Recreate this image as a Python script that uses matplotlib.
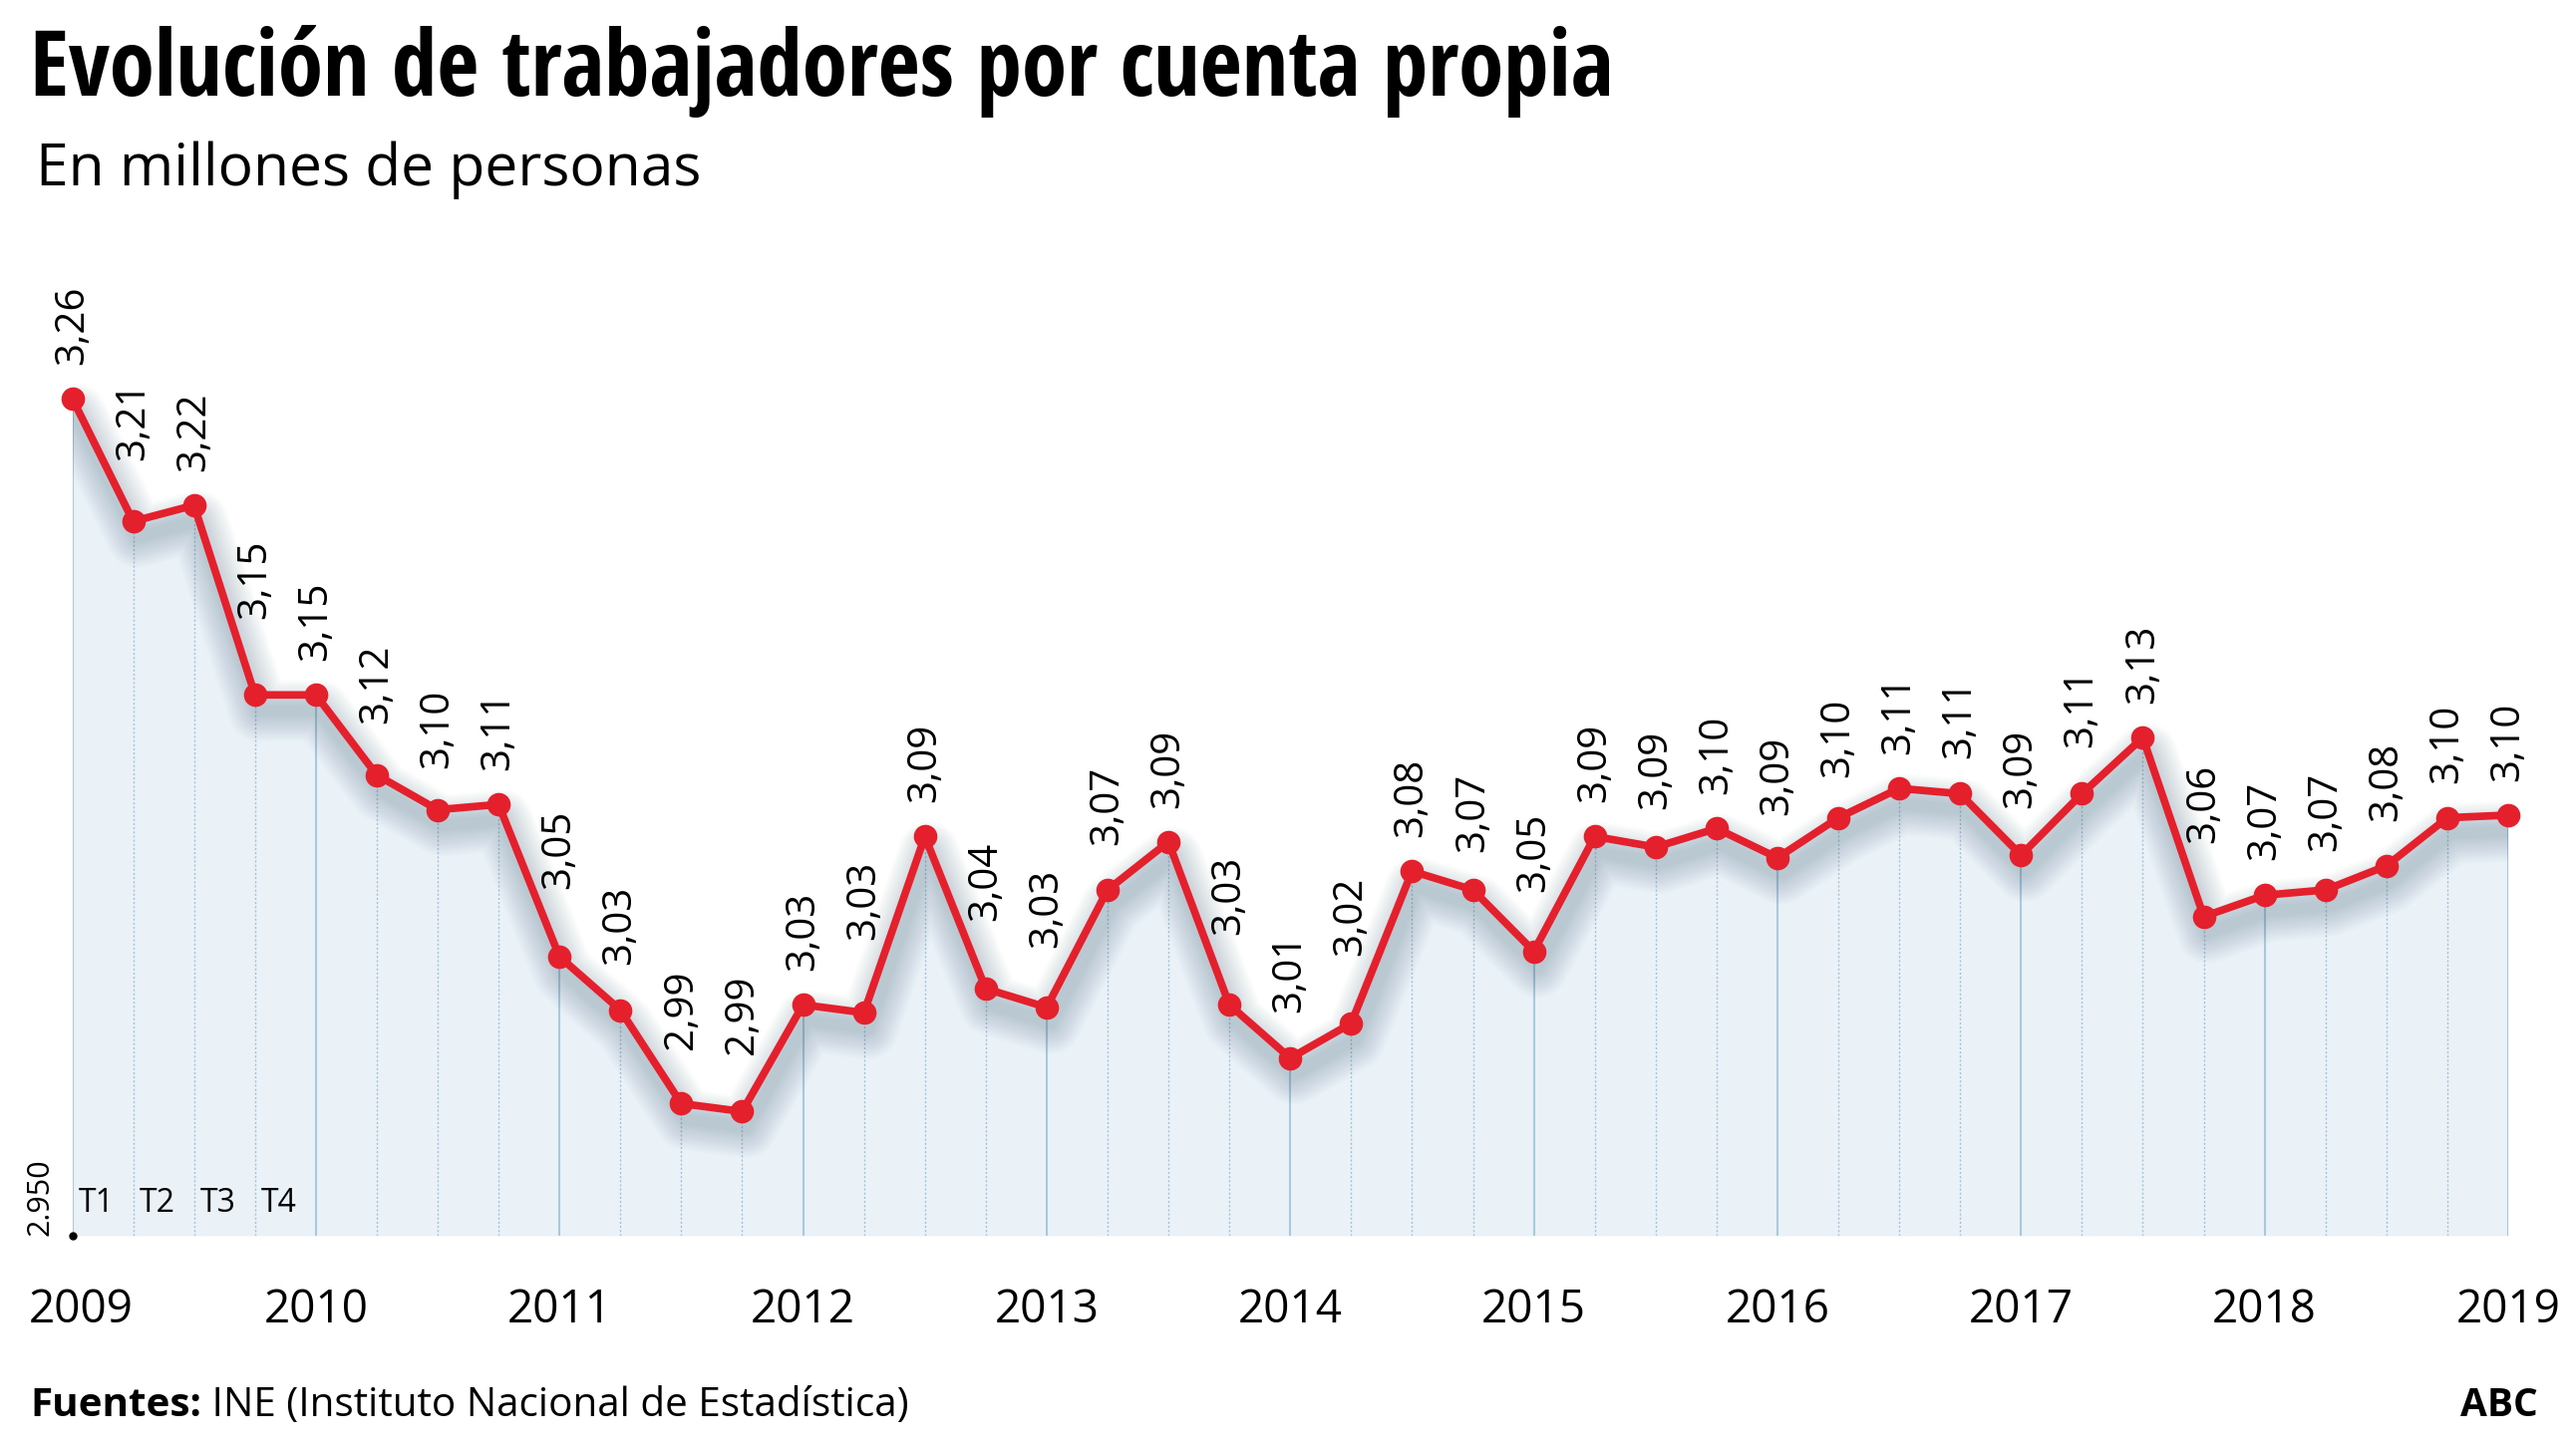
import matplotlib
matplotlib.use("Agg")
import matplotlib.pyplot as plt
import matplotlib.transforms as mtransforms
from matplotlib import font_manager
import numpy as np

# Textos
TITLE = "Evolución de trabajadores por cuenta propia"
SUBTITLE = "En millones de personas"
SOURCE_BOLD = "Fuentes:"
SOURCE_TEXT = " INE (Instituto Nacional de Estadística)"
BRAND = "ABC"
BASE_LABEL = "2.950"

# Datos (millones de personas, trimestral 2009T1 - 2019T1)
YEARS = ["2009", "2010", "2011", "2012", "2013", "2014",
         "2015", "2016", "2017", "2018", "2019"]
QUARTERS = ["T1", "T2", "T3", "T4"]
AUTONOMOS = [
    3.258, 3.212, 3.218, 3.147,   # 2009
    3.147, 3.117, 3.104, 3.106,   # 2010
    3.049, 3.029, 2.994, 2.991,   # 2011
    3.031, 3.028, 3.094, 3.037,   # 2012
    3.030, 3.074, 3.092, 3.031,   # 2013
    3.011, 3.024, 3.081, 3.074,   # 2014
    3.051, 3.094, 3.090, 3.097,   # 2015
    3.086, 3.101, 3.112, 3.110,   # 2016
    3.087, 3.110, 3.131, 3.064,   # 2017
    3.072, 3.074, 3.083, 3.101,   # 2018
    3.102,                        # 2019
]
Y_FLOOR = 2.9445

# Estilo
RED = "#e3202c"
FILL = "#eaf2f8"
GRID_SOLID = "#a8c8dc"
GRID_DOT = "#a3c2d6"

W, H, DPI = 2584, 1455, 100
PX_PER_UNIT = 2680.0


def has_font(name, bold):
    for f in font_manager.fontManager.ttflist:
        if f.name != name:
            continue
        w = f.weight if isinstance(f.weight, int) else font_manager.weight_dict.get(f.weight, 400)
        if (w >= 600) == bold:
            return True
    return False


def pick_font(cands, bold):
    for n in cands:
        if has_font(n, bold):
            return n
    return "Open Sans"


NARROW = ["Open Sans Condensed", "Open Sans SemiCondensed", "Noto Sans SemiCondensed",
          "Noto Sans Condensed", "Roboto Condensed", "Liberation Sans Narrow"]
FONT_BOLD = pick_font(NARROW, True)
FONT_REG = pick_font(["Open Sans SemiCondensed", "Noto Sans SemiCondensed"], False)
plt.rcParams["font.family"] = [FONT_REG, "DejaVu Sans"]
BOLD = [FONT_BOLD, "DejaVu Sans"]
BOLD_WIDE = ["Open Sans", "DejaVu Sans"]


def fx(px):
    return px / W


def fy(px):
    return 1 - px / H


def fit_width(texts, target_px):
    # ajusta el tamaño para que el ancho total coincida con el original
    fig.canvas.draw()
    r = fig.canvas.get_renderer()
    x0 = min(t.get_window_extent(r).x0 for t in texts)
    x1 = max(t.get_window_extent(r).x1 for t in texts)
    k = target_px / (x1 - x0)
    for t in texts:
        t.set_fontsize(t.get_fontsize() * k)


fig = plt.figure(figsize=(W / DPI, H / DPI), dpi=DPI)
fig.patch.set_facecolor("white")

# ── Area del grafico ─────────────────────────────────────────────────────────
top_px, floor_px = 150, 1240
ax = fig.add_axes([fx(72.5), fy(floor_px), fx(2516) - fx(72.5), fy(top_px) - fy(floor_px)])
ax.set_xlim(0, len(AUTONOMOS) - 1)
ax.set_ylim(Y_FLOOR, Y_FLOOR + (floor_px - top_px) / PX_PER_UNIT)
ax.axis("off")

vals = np.array(AUTONOMOS)
x = np.arange(len(vals))

ax.fill_between(x, Y_FLOOR, vals, color=FILL, lw=0, zorder=1)

is_year = x % 4 == 0
ax.vlines(x[is_year], Y_FLOOR, vals[is_year], color=GRID_SOLID, lw=1.5, zorder=2)
ax.vlines(x[~is_year], Y_FLOOR, vals[~is_year], color=GRID_DOT, lw=1.0,
          linestyles=(0, (1.5, 1.5)), zorder=2)

# sombra difusa bajo la linea
shadow_tr = mtransforms.offset_copy(ax.transData, fig=fig, x=4, y=-16, units="dots")
for lw in np.linspace(44, 8, 12):
    ax.plot(x, vals, color="#3f5b74", lw=lw, alpha=0.024, transform=shadow_tr,
            solid_capstyle="round", solid_joinstyle="round", zorder=3)

ax.plot(x, vals, color=RED, lw=5.5, marker="o", ms=16, zorder=5, clip_on=False,
        solid_joinstyle="round")

# punto base
ax.plot(0, Y_FLOOR, "o", color="black", ms=5, clip_on=False, zorder=6)

# etiquetas de valor (rotadas), separadas de la linea
half = 0.22
gap_px = 34
for i, v in enumerate(vals):
    tops = [v]
    if i > 0:
        tops.append(v + (vals[i - 1] - v) * half)
    if i < len(vals) - 1:
        tops.append(v + (vals[i + 1] - v) * half)
    lift = (max(tops) - v) * PX_PER_UNIT + gap_px
    ax.annotate(f"{v:.2f}".replace(".", ","), (i, v), xytext=(0, lift * 72 / DPI),
                textcoords="offset points", rotation=90, ha="center", va="bottom",
                fontsize=29, color="black", zorder=7, annotation_clip=False)

# años (el primero alineado con el margen izquierdo)
for k, yr in enumerate(YEARS):
    ax.annotate(yr, (k * 4, Y_FLOOR), xytext=(6 if k == 0 else 0, -87 * 72 / DPI),
                textcoords="offset points", ha="center", va="baseline",
                fontsize=33, color="black", annotation_clip=False)

# trimestres
for q, lab in enumerate(QUARTERS):
    ax.text(q + 0.1, Y_FLOOR + 24 / PX_PER_UNIT, lab, ha="left", va="baseline",
            fontsize=23, color="black", zorder=7)

fig.text(fx(40), fy(floor_px), BASE_LABEL, rotation=90, ha="center", va="bottom",
         fontsize=22, color="black")

# ── Titulos y pie ────────────────────────────────────────────────────────────
title = fig.text(fx(30), fy(96), TITLE, fontsize=59, fontweight="bold",
                 family=BOLD, va="baseline")
subtitle = fig.text(fx(36), fy(186), SUBTITLE, fontsize=45, va="baseline")
fit_width([title], 1593)
fit_width([subtitle], 669)

t1 = fig.text(fx(30), fy(1421), SOURCE_BOLD, fontsize=28, fontweight="bold",
              family=BOLD_WIDE, va="baseline")
t2 = fig.text(fx(200), fy(1421), SOURCE_TEXT, fontsize=28, va="baseline")
fit_width([t1, t2], 880)
fig.canvas.draw()
bb = t1.get_window_extent(renderer=fig.canvas.get_renderer())
t2.set_x(bb.x1 / W)
fit_width([t1, t2], 880)
fig.canvas.draw()
bb = t1.get_window_extent(renderer=fig.canvas.get_renderer())
t2.set_x(bb.x1 / W)

brand = fig.text(fx(2546), fy(1421), BRAND, fontsize=28, fontweight="bold",
                 family=BOLD_WIDE, ha="right", va="baseline")

fig.savefig("out.png", dpi=DPI, facecolor="white")
